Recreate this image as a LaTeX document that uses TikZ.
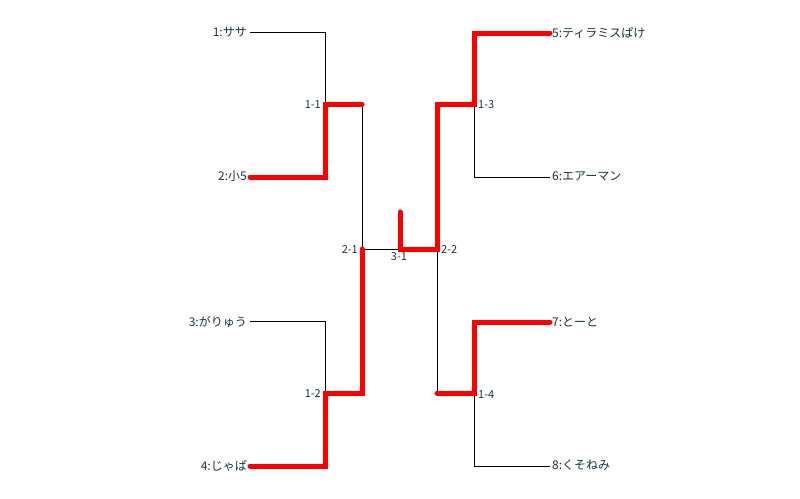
\documentclass[tikz,border=0pt]{standalone}
\usepackage{fontspec}
\setmainfont{Noto Sans CJK JP}
\definecolor{txt}{RGB}{28,52,66}
\definecolor{winred}{RGB}{255,0,0}
\tikzset{
  team/.style={inner sep=0pt, font=\fontsize{12}{14}\selectfont, text=txt},
  matchlbl/.style={inner sep=0pt, font=\fontsize{11}{13}\selectfont, text=txt},
  wire/.style={draw=black, line width=0.9},
  win/.style={draw=winred, line width=5, line cap=round, line join=miter},
}
\begin{document}
\begin{tikzpicture}[x=1pt,y=-1pt]
\useasboundingbox[fill=white] (0,0) rectangle (800,498);
% match points
\coordinate (m11) at (325,104);
\coordinate (m12) at (325,393);
\coordinate (m13) at (474,104);
\coordinate (m14) at (474,393);
\coordinate (m21) at (362,249);
\coordinate (m22) at (437,249);
\coordinate (m31) at (400,249);
\coordinate (a11) at (362,104);
\coordinate (a12) at (362,393);
\coordinate (a13) at (437,104);
\coordinate (a14) at (437,393);
\coordinate (top) at (400,212);
% teams
\node[team, anchor=east] (t1) at (247,32.5) {1:ササ};
\node[team, anchor=east] (t2) at (247,176.5) {2:小5};
\node[team, anchor=east] (t3) at (247,321.5) {3:がりゅう};
\node[team, anchor=east] (t4) at (247,465.5) {4:じゃぱ};
\node[team, anchor=west] (t5) at (552,32.5) {5:ティラミスぱけ};
\node[team, anchor=west] (t6) at (552,176.5) {6:エアーマン};
\node[team, anchor=west] (t7) at (552,321.5) {7:とーと};
\node[team, anchor=west] (t8) at (552,465.5) {8:くそねみ};
% match labels
\node[matchlbl, anchor=east] (l11) at (321,104.5) {1-1};
\node[matchlbl, anchor=east] (l12) at (321,394) {1-2};
\node[matchlbl, anchor=east] (l21) at (358,249.5) {2-1};
\node[matchlbl, anchor=north] (l31) at (399,252) {3-1};
\node[matchlbl, anchor=west] (l22) at (441,249.5) {2-2};
\node[matchlbl, anchor=west] (l13) at (478,104.5) {1-3};
\node[matchlbl, anchor=west] (l14) at (478,395) {1-4};
% black wires
\draw[wire] (t1.east) ++(3,-0.5) -| (m11);
\draw[wire] (a11) -- (m21);
\draw[wire] (t3.east) ++(3,-0.5) -| (m12);
\draw[wire] (m21) -- (m31);
\draw[wire] (m22) -- (a14);
\draw[wire] (m13) |- ([xshift=-2pt,yshift=-0.5pt]t6.west);
\draw[wire] (m14) |- ([xshift=-2pt,yshift=-0.5pt]t8.west);
% red winner paths
\draw[win] ([xshift=3pt,yshift=-0.5pt]t2.east) -| (m11) -- (a11);
\draw[win] ([xshift=3pt,yshift=-0.5pt]t4.east) -| (m12) -- (a12) -- (m21);
\draw[win] (top) -- (m31) -- (m22) -- (a13) -- (m13) |- ([xshift=-2pt,yshift=-0.5pt]t5.west);
\draw[win] (a14) -- (m14) |- ([xshift=-2pt,yshift=-0.5pt]t7.west);
\end{tikzpicture}
\end{document}
